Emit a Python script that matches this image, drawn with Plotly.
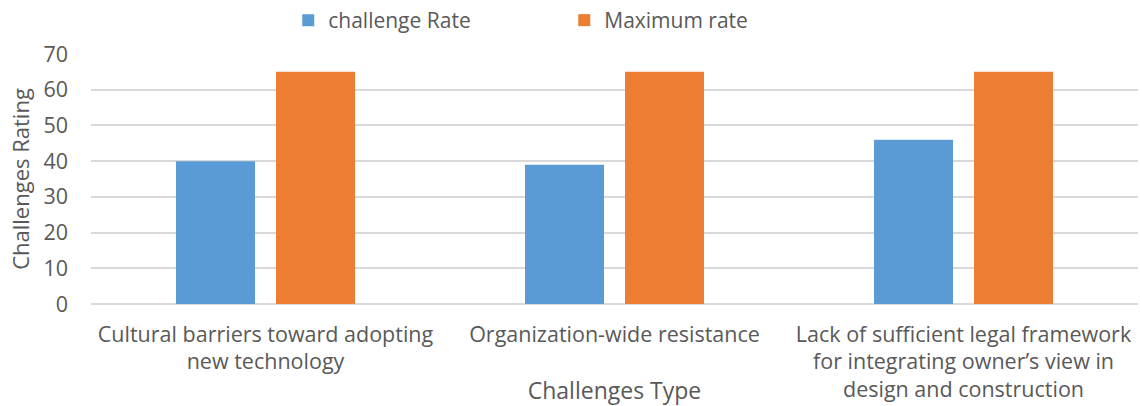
import plotly.graph_objects as go

categories = [
    "Cultural barriers toward adopting<br>new technology",
    "Organization-wide resistance",
    "Lack of sufficient legal framework<br>for integrating owner’s view in<br>design and construction",
]
challenge_rate = [40, 39, 46]
maximum_rate = [65, 65, 65]
y_ticks = [0, 10, 20, 30, 40, 50, 60, 70]

FONT = "'Open Sans', sans-serif"
GREY = "#595959"

fig = go.Figure()
fig.add_trace(go.Bar(name="challenge Rate", x=categories, y=challenge_rate,
                     marker=dict(color="#5B9BD5", line=dict(width=0))))
fig.add_trace(go.Bar(name="Maximum rate", x=categories, y=maximum_rate,
                     marker=dict(color="#ED7D31", line=dict(width=0))))

fig.update_layout(
    width=1140, height=406,
    margin=dict(l=91, r=2, t=54, b=102),
    paper_bgcolor="white", plot_bgcolor="white",
    barmode="group", bargap=0.427, bargroupgap=0.21,
    font=dict(family=FONT, size=18, color=GREY),
    legend=dict(orientation="h", x=0.452, xanchor="center", y=1.0, yanchor="top",
                yref="container", entrywidth=231, entrywidthmode="pixels",
                font=dict(size=21, color=GREY), itemwidth=30, traceorder="normal"),
    xaxis=dict(title=dict(text="Challenges Type", font=dict(size=23, color=GREY), standoff=7),
               tickfont=dict(size=21.5, color=GREY), showgrid=False, showline=False,
               ticks="", ticklabelstandoff=15, automargin=False),
    yaxis=dict(title=dict(text="Challenges Rating", font=dict(size=22, color=GREY), standoff=7),
               range=[0, 70], tickvals=y_ticks, tickfont=dict(size=21.5, color=GREY),
               showgrid=True, gridcolor="#D9D9D9", gridwidth=1.5, zeroline=True,
               zerolinecolor="#D9D9D9", zerolinewidth=1.5, ticks="", ticklen=0,
               ticklabelstandoff=22, automargin=False),
)

fig.write_html("out.html")
